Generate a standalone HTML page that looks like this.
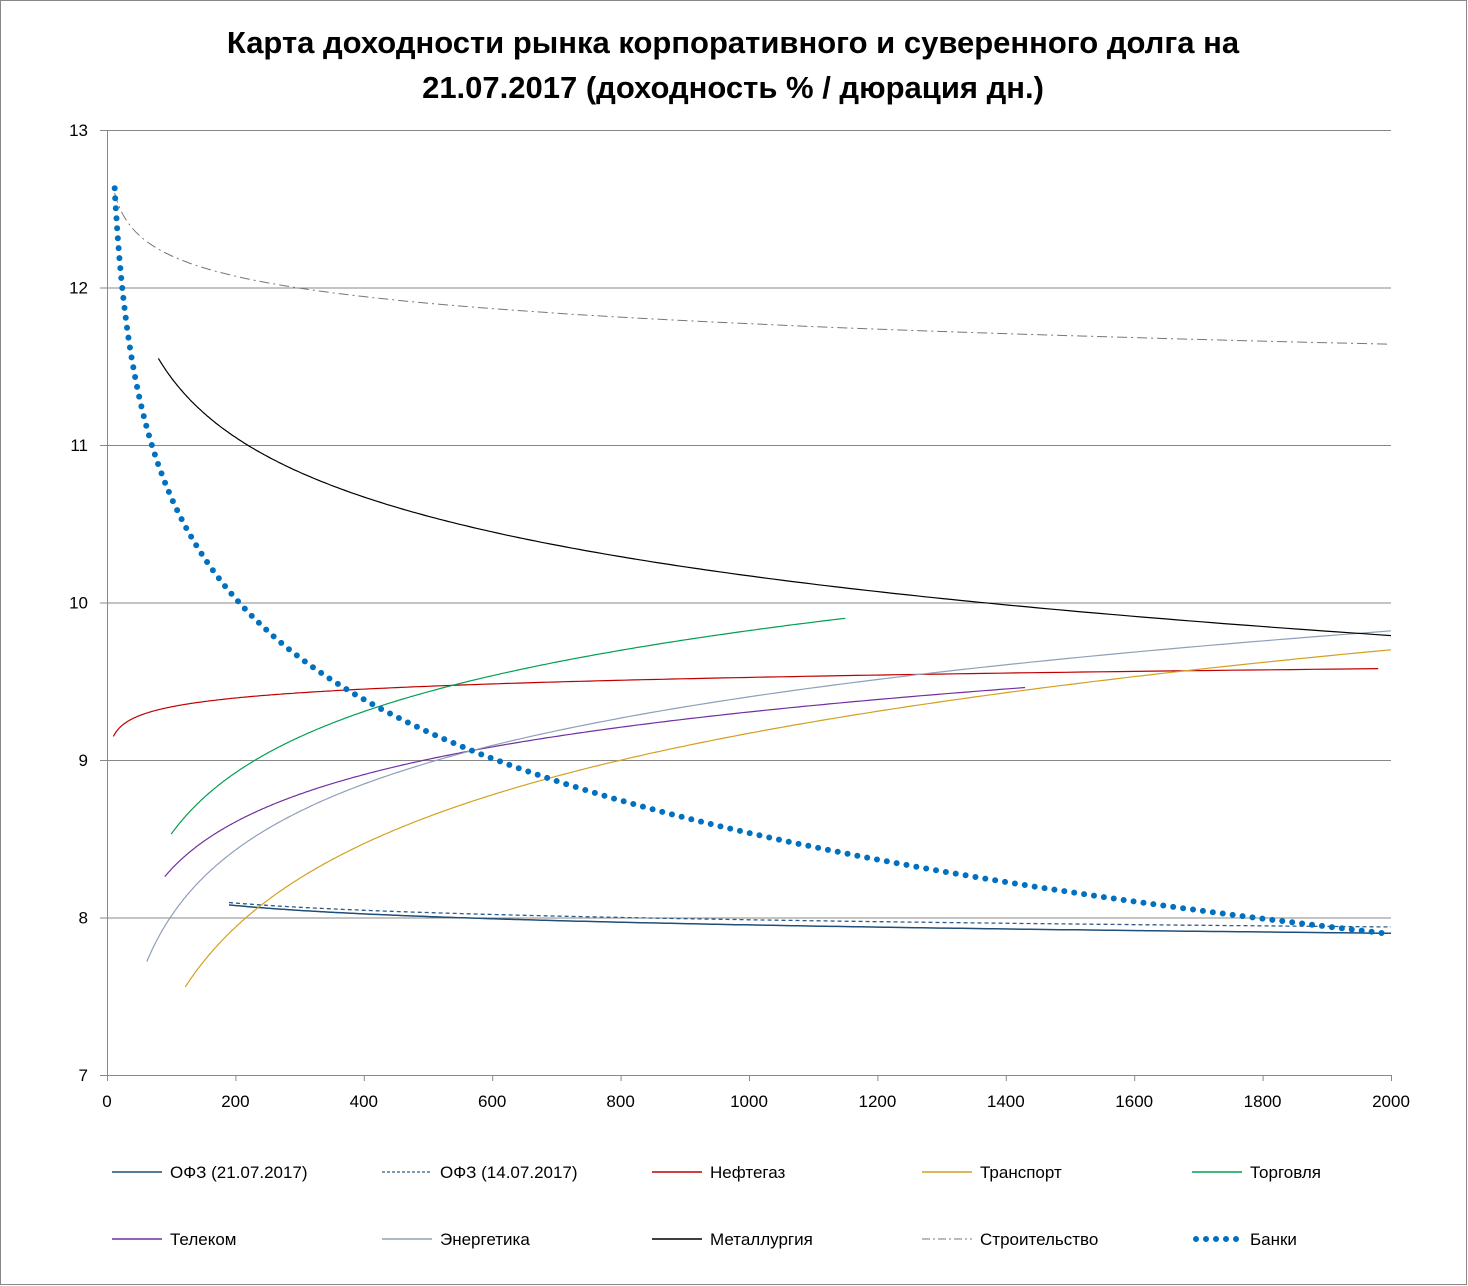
<!DOCTYPE html>
<html><head><meta charset="utf-8"><style>
body{margin:0;background:#fff;}
svg{display:block;font-family:"Liberation Sans",sans-serif;}
</style></head><body>
<svg id="s" width="1468" height="1286" xmlns="http://www.w3.org/2000/svg">
<rect x="0.5" y="0.5" width="1466" height="1284" fill="#fff" stroke="#888" stroke-width="1"/>
<text x="733" y="53" text-anchor="middle" font-size="31" font-weight="bold">Карта доходности рынка корпоративного и суверенного долга на</text>
<text x="733" y="98" text-anchor="middle" font-size="31" font-weight="bold">21.07.2017 (доходность % / дюрация дн.)</text>
<g id="grid" stroke="#888" stroke-width="1"></g>
<g id="labels" font-size="17" fill="#000"></g>
<g id="series" fill="none"></g>
<g id="legend" font-size="17"></g>
</svg>
<script>
const X=x=>107+x*0.642, Y=y=>130+(13-y)*157.5;
const ns="http://www.w3.org/2000/svg";
function el(p,t,a,txt){const e=document.createElementNS(ns,t);for(const k in a)e.setAttribute(k,a[k]);if(txt!==undefined)e.textContent=txt;p.appendChild(e);return e;}
const g=document.getElementById('grid'),L=document.getElementById('labels');
for(let v=7;v<=13;v++){el(g,'line',{x1:100,x2:1391,y1:Y(v)+.5,y2:Y(v)+.5});el(L,'text',{x:88,y:Y(v)+6,'text-anchor':'end'},v);}
el(g,'line',{x1:107.5,x2:107.5,y1:130,y2:1075});
for(let v=0;v<=2000;v+=200){el(g,'line',{x1:X(v)+.5,x2:X(v)+.5,y1:1075,y2:1081});el(L,'text',{x:X(v),y:1107,'text-anchor':'middle'},v);}
const S=document.getElementById('series');
function curve(x0,y0,x1,y1,style){const b=(y1-y0)/Math.log(x1/x0);let d='';for(let i=0;i<=300;i++){const x=x0*Math.pow(x1/x0,i/300);const y=y0+b*Math.log(x/x0);d+=(i?'L':'M')+X(x).toFixed(1)+' '+Y(y).toFixed(1);}const a=Object.assign({d:d},style);el(S,'path',a);}
curve(190,8.08,2000,7.9,{stroke:'#1f4e79','stroke-width':1.5});
curve(190,8.095,2000,7.94,{stroke:'#2e5c8a','stroke-width':1.3,'stroke-dasharray':'4 3'});
curve(10,9.15,1980,9.58,{stroke:'#c00000','stroke-width':1.2});
curve(122,7.56,2000,9.7,{stroke:'#d4a020','stroke-width':1.2});
curve(100,8.53,1150,9.9,{stroke:'#00a050','stroke-width':1.2});
curve(90,8.26,1430,9.46,{stroke:'#7030a0','stroke-width':1.2});
curve(62,7.72,2000,9.82,{stroke:'#8ea0b8','stroke-width':1.2});
curve(80,11.55,2000,9.79,{stroke:'#000','stroke-width':1.2});
curve(12,12.6,2000,11.64,{stroke:'#777','stroke-width':1,'stroke-dasharray':'10 4 2 4'});
curve(12,12.63,1990,7.9,{stroke:'#0070c0','stroke-width':6,'stroke-linecap':'round','stroke-dasharray':'0 10'});
const G=document.getElementById('legend');
const items=[['ОФЗ (21.07.2017)',{stroke:'#1f4e79','stroke-width':1.5}],['ОФЗ (14.07.2017)',{stroke:'#2e5c8a','stroke-width':1.3,'stroke-dasharray':'3 2'}],['Нефтегаз',{stroke:'#c00000','stroke-width':1.5}],['Транспорт',{stroke:'#d4a020','stroke-width':1.5}],['Торговля',{stroke:'#00a050','stroke-width':1.5}],
['Телеком',{stroke:'#7030a0','stroke-width':1.5}],['Энергетика',{stroke:'#8ea0b8','stroke-width':1.5}],['Металлургия',{stroke:'#000','stroke-width':1.5}],['Строительство',{stroke:'#777','stroke-width':1,'stroke-dasharray':'8 3 2 3'}],['Банки',{stroke:'#0070c0','stroke-width':6,'stroke-linecap':'round','stroke-dasharray':'0 10'}]];
const xs=[112,382,652,922,1192];
items.forEach((it,i)=>{const x=xs[i%5],y=i<5?1172:1239;el(G,'line',Object.assign({x1:x+(i==9?4:0),x2:x+50,y1:y,y2:y},it[1]));el(G,'text',{x:x+58,y:y+6},it[0]);});
</script>
</body></html>
